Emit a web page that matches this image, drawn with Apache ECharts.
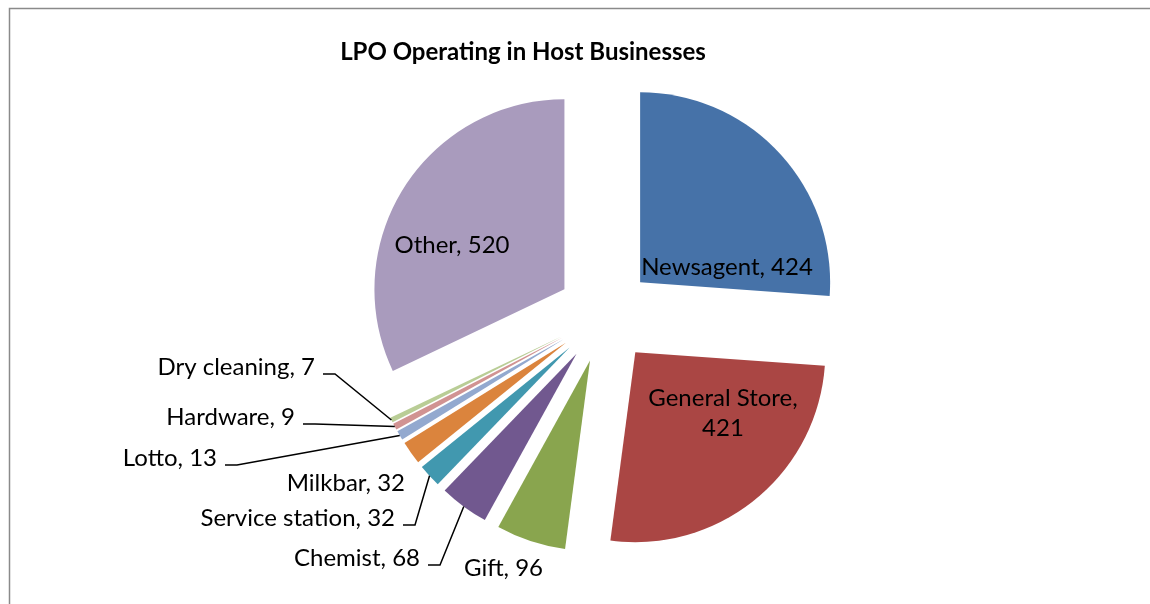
<!DOCTYPE html>
<html>
<head>
<meta charset="utf-8">
<script src="https://cdn.jsdelivr.net/npm/echarts@6/dist/echarts.min.js"></script>
<style>
html,body{margin:0;padding:0;background:#fff;}
#chart{width:1150px;height:604px;}
</style>
</head>
<body>
<div id="chart"></div>
<script>
var titleText = 'LPO Operating in Host Businesses';
var categories = ['Newsagent', 'General Store', 'Gift', 'Chemist', 'Service station', 'Milkbar', 'Lotto', 'Hardware', 'Dry cleaning', 'Other'];
var values = [424, 421, 96, 68, 32, 32, 13, 9, 7, 520];
var colors = ['#4672A8', '#AA4644', '#89A54E', '#71588F', '#4198AF', '#DB843D', '#93A9CF', '#D19392', '#B9CD96', '#A99BBD'];

// label placement (style/layout only)
var insideLabel = {'Newsagent': true, 'General Store': true, 'Other': true};
var noLeader = {'Gift': true, 'Milkbar': true};
// inside labels: text centre; outside labels: right end of label box, top of the text line
var labelLayoutPos = {
  'Newsagent': {x: 727, y: 267, align: 'center', va: 'middle'},
  'General Store': {x: 723, y: 413, align: 'center', va: 'middle'},
  'Other': {x: 452, y: 245, align: 'center', va: 'middle'},
  'Gift': {x: 551, y: 553, align: 'right', va: 'top'},
  'Chemist': {x: 428, y: 543, align: 'right', va: 'top'},
  'Service station': {x: 403, y: 503, align: 'right', va: 'top'},
  'Milkbar': {x: 413, y: 468, align: 'right', va: 'top'},
  'Lotto': {x: 225, y: 443, align: 'right', va: 'top'},
  'Hardware': {x: 303, y: 402, align: 'right', va: 'top'},
  'Dry cleaning': {x: 323, y: 352, align: 'right', va: 'top'}
};

var FONT = 'Lato, "Liberation Sans", Arial, sans-serif';

function fmt(p) {
  if (p.name === 'General Store') return p.name + ',\n' + p.value;
  return p.name + ', ' + p.value;
}

// visible exploded pie
var sliceData = categories.map(function (name, i) {
  return {name: name, value: values[i], selected: true, itemStyle: {color: colors[i]}};
});

// label carrier (same values, invisible sectors reaching the exploded outer edge)
var labelData = categories.map(function (name, i) {
  var inside = !!insideLabel[name];
  return {
    name: name,
    value: values[i],
    label: {
      position: inside ? 'inside' : 'outside',
      padding: inside ? 0 : [0, 8, 14, 0],
      backgroundColor: inside ? 'transparent' : 'rgba(255,255,255,0)'
    },
    labelLine: {show: !inside && !noLeader[name]}
  };
});

var chart = echarts.init(document.getElementById('chart'), null, {renderer: 'canvas'});
chart.setOption({
  backgroundColor: '#ffffff',
  animation: false,
  title: {
    text: titleText,
    left: 523,
    top: 40,
    padding: 0,
    textAlign: 'center',
    textStyle: {fontFamily: FONT, fontSize: 24, fontWeight: 'bold', color: '#000'}
  },
  graphic: [{
    type: 'rect',
    shape: {x: 9.5, y: 8.5, width: 1300, height: 800},
    style: {fill: null, stroke: '#8a8a8a', lineWidth: 1.5},
    silent: true
  }],
  series: [{
    type: 'pie',
    name: 'slices',
    center: [605, 315],
    radius: 190,
    startAngle: 90,
    clockwise: true,
    selectedMode: 'multiple',
    selectedOffset: 48,
    avoidLabelOverlap: false,
    emphasis: {disabled: true},
    silent: true,
    itemStyle: {borderWidth: 0},
    label: {show: false},
    labelLine: {show: false},
    data: sliceData
  }, {
    type: 'pie',
    name: 'labels',
    center: [605, 315],
    radius: 238,
    startAngle: 90,
    clockwise: true,
    selectedMode: false,
    avoidLabelOverlap: false,
    emphasis: {disabled: true},
    silent: true,
    z: 3,
    itemStyle: {color: 'rgba(0,0,0,0)', borderWidth: 0},
    label: {
      show: true,
      color: '#000',
      fontFamily: FONT,
      fontSize: 24,
      lineHeight: 30,
      formatter: fmt
    },
    labelLine: {
      show: true,
      length: 10,
      length2: 12,
      smooth: false,
      lineStyle: {color: '#000', width: 1.5}
    },
    labelLayout: function (params) {
      var pos = labelLayoutPos[categories[params.dataIndex]];
      return {x: pos.x, y: pos.y, align: pos.align, verticalAlign: pos.va};
    },
    data: labelData
  }]
});
</script>
</body>
</html>
